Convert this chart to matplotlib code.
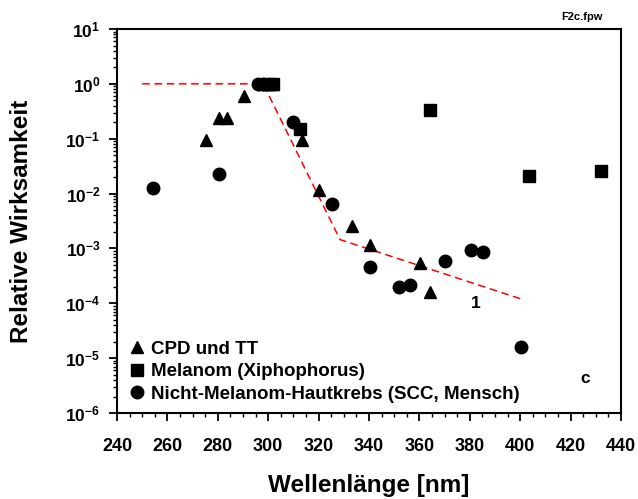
import matplotlib
matplotlib.use("Agg")
import matplotlib.pyplot as plt
from matplotlib.ticker import MultipleLocator, LogLocator, FuncFormatter, NullFormatter
import numpy as np

plt.rcParams['font.family'] = ['Liberation Sans', 'DejaVu Sans']
plt.rcParams['font.weight'] = 'bold'
plt.rcParams['mathtext.fontset'] = 'custom'
plt.rcParams['mathtext.rm'] = 'Liberation Sans:bold'
plt.rcParams['mathtext.bf'] = 'Liberation Sans:bold'
plt.rcParams['mathtext.it'] = 'Liberation Sans:bold'

# CPD und TT (triangles)
cpd_wl = [275.3, 280.5, 283.5, 290.4, 298, 300, 302, 313.3, 320.3, 333.2, 340.3, 360.2, 364.3]
cpd_val = [0.095, 0.235, 0.24, 0.59, 1.0, 1.0, 1.0, 0.095, 0.0115, 0.0026, 0.00115, 0.00055, 0.00016]

# Melanom (Xiphophorus) (squares)
mel_wl = [300, 302, 312.6, 364.2, 403.4, 432.2]
mel_val = [1.0, 1.0, 0.15, 0.33, 0.0205, 0.026]

# Nicht-Melanom-Hautkrebs (SCC, Mensch) (circles)
scc_wl = [254.4, 280.3, 296, 298, 310, 325.3, 340.4, 352, 356.3, 370.3, 380.3, 385.2, 400.2]
scc_val = [0.0124, 0.023, 1.0, 1.0, 0.2, 0.0065, 0.00045, 0.0002, 0.00022, 0.00058, 0.00095, 0.00085, 1.6e-5]

# Action spectrum (red dashed)
line_wl = [250, 298, 328.5, 400.3]
line_val = [1.0, 1.0, 0.00145, 0.00012]

xticks = [240, 260, 280, 300, 320, 340, 360, 380, 400, 420, 440]

fig = plt.figure(figsize=(6.38, 4.99), dpi=100)
ax = fig.add_axes([0.1834, 0.1723, 0.79, 0.7696])

ax.plot(line_wl, line_val, color='#ff0000', ls=(0, (5, 3)), lw=1.1, zorder=3)
ax.plot(cpd_wl, cpd_val, ls='none', marker='^', ms=8.5, color='black', label='CPD und TT', zorder=4)
ax.plot(mel_wl, mel_val, ls='none', marker='s', ms=8.5, color='black', label='Melanom (Xiphophorus)', zorder=4)
ax.plot(scc_wl, scc_val, ls='none', marker='o', ms=9, color='black', label='Nicht-Melanom-Hautkrebs (SCC, Mensch)', zorder=4)

ax.set_yscale('log')
ax.set_xlim(240, 440)
ax.set_ylim(1e-6, 10)
ax.set_xticks(xticks)
ax.xaxis.set_minor_locator(MultipleLocator(5))
ax.yaxis.set_major_locator(LogLocator(base=10, numticks=20))
ax.yaxis.set_minor_locator(LogLocator(base=10, subs=np.arange(2, 10), numticks=50))
ax.yaxis.set_minor_formatter(NullFormatter())
ax.yaxis.set_major_formatter(FuncFormatter(lambda v, p: r'$\mathbf{10^{%d}}$' % int(round(np.log10(v)))))

ax.tick_params(axis='both', which='major', direction='out', length=6, width=1.3, labelsize=12.5, pad=6)
ax.tick_params(axis='both', which='minor', direction='out', length=3, width=1.0)
ax.tick_params(axis='x', which='major', labelsize=13, pad=12)
for lab in ax.get_xticklabels():
    lab.set_fontweight('bold')

for s in ax.spines.values():
    s.set_linewidth(1.5)

ax.set_xlabel('Wellenlänge [nm]', fontsize=17.5, fontweight='bold', labelpad=14)
ax.set_ylabel('Relative Wirksamkeit', fontsize=17.5, fontweight='bold', labelpad=23)

leg = ax.legend(loc='lower left', frameon=False, handletextpad=0.25,
                handlelength=1.0, borderaxespad=0.15, labelspacing=0.28,
                borderpad=0.4, prop={'weight': 'bold', 'size': 13.5})

ax.text(382.5, 1.0e-4, '1', fontsize=12.5, fontweight='bold', ha='center', va='center')
ax.text(425.7, 4.2e-6, 'c', fontsize=12.5, fontweight='bold', ha='center', va='center')
fig.text(0.912, 0.966, 'F2c.fpw', fontsize=8, fontweight='bold', ha='center', va='center')

fig.savefig('out.png', dpi=100)
